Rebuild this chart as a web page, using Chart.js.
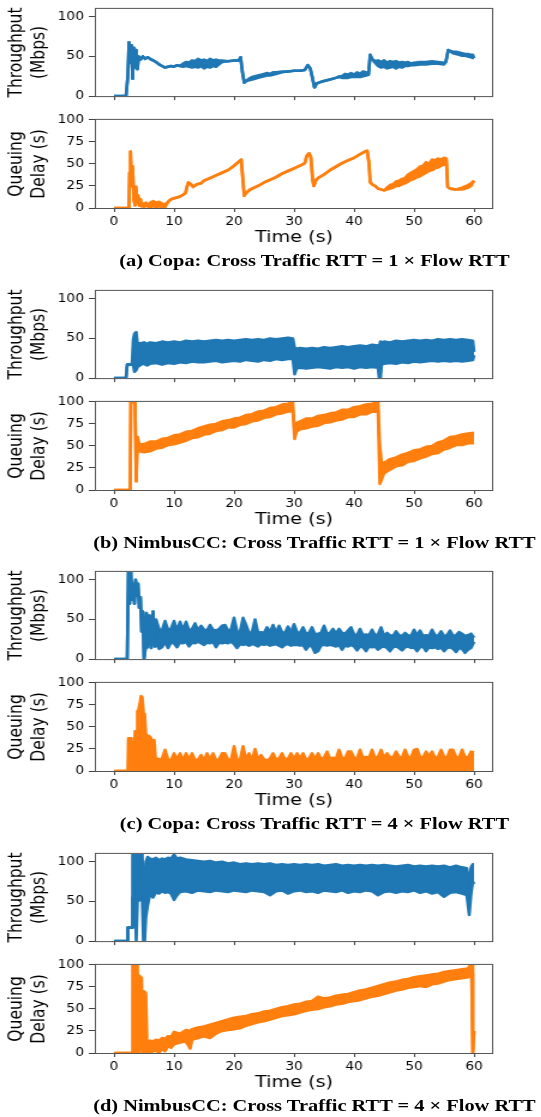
<!DOCTYPE html>
<html lang="en">
<head>
<meta charset="UTF-8">
<title>Copa vs NimbusCC - throughput and queuing delay</title>
<style>
  body { margin: 0; background: #fff; }
  #fig {
    position: relative;
    width: 451px;
    height: 1117px;
    transform: scaleX(1.2);
    transform-origin: 0 0;
  }
  #fig canvas { position: absolute; left: 0; }
  .caption {
    position: absolute;
    left: 0;
    width: 524px;
    text-align: center;
    font: bold 17px "Liberation Serif", "Times New Roman", serif;
    line-height: 20px;
    color: #000;
    white-space: nowrap;
  }
</style>
</head>
<body>
<div id="fig"></div>

<script src="https://cdn.jsdelivr.net/npm/chart.js"></script>
<script>
// rows are [time (s), upper value, lower value]; upper == lower where the trace is a single line
const copa1Tput = [
  [0,0,0],[2.0,0,0],[2.3,25,25],[2.5,68,68],[2.7,42,42],[2.9,64,64],[3.1,22,22],[3.3,61,61],[3.5,36,36],[3.7,58,58],
  [3.9,34,34],[4.1,50,50],[4.4,46,46],[4.8,50,50],[5.2,47,47],[5.6,49,49],[6,47,47],[6.5,45,45],[7,43,43],[7.5,40,40],
  [8,38,38],[8.5,36,36],[9,37,37],[9.5,38,38],[10,37,37],[10.5,39,39],[11,38,38],[11.5,41,37],[12,43,38],[12.5,42,37],
  [13,45,36],[13.5,44,37],[14,47,36],[14.5,45,38],[15,46,35],[15.5,44,37],[16,47,36],[16.5,45,38],[17,46,37],[17.5,45,40],
  [18,45,43],[19,44,44],[20,45,45],[20.8,45,45],[21.1,49,49],[21.4,30,30],[21.7,17,17],[22,19,19],[22.5,22,20],[23,24,21],
  [23.5,25,22],[24,26,23],[24.5,27,24],[25,28,25],[25.5,29,26],[26,28,26],[26.5,30,27],[27,30,28],[28,31,30],[29,31,31],
  [30,32,32],[31,32,32],[31.8,33,33],[32.3,39,39],[32.7,35,35],[33.1,22,22],[33.4,11,11],[33.8,16,16],[34.5,18,18],[35,19,19],
  [36,21,21],[37,23,23],[37.5,25,24],[38,25,23],[38.5,28,23],[39,27,23],[39.5,29,24],[40,27,24],[40.5,30,24],[41,28,24],
  [41.5,31,25],[42,30,26],[42.4,27,27],[42.7,52,52],[43,47,47],[43.5,44,42],[44,45,38],[44.5,43,36],[45,45,37],[45.5,42,35],
  [46,44,36],[46.5,43,37],[47,44,35],[47.5,42,37],[48,43,36],[48.5,42,38],[49,43,38],[49.5,41,39],[50,42,39],[51,43,40],
  [52,43,40],[53,44,41],[54,43,41],[55,42,40],[55.3,43,43],[55.7,58,58],[56,57,57],[56.5,56,54],[57,56,53],[57.5,55,52],
  [58,54,51],[58.5,53,51],[59,53,50],[59.5,52,49],[59.8,52,48],[60,48,48]
];
const copa1Delay = [
  [0,0,0],[2.5,0,0],[2.6,40,40],[2.75,64,64],[2.95,25,25],[3.1,47,47],[3.3,10,10],[3.5,3,3],[3.65,24,24],[3.85,6,6],
  [4.0,14,14],[4.2,3,3],[4.4,10,10],[4.6,2,2],[4.8,5,5],[5.0,1,1],[5.3,6,6],[5.6,2,2],[6,6,1],[6.5,8,2],
  [7,6,1],[7.5,7,2],[8,5,1],[8.5,4,1],[9,7,7],[9.5,10,10],[10,11,11],[10.5,12,12],[11,13,13],[11.5,15,15],
  [11.9,17,17],[12.2,25,25],[12.4,29,29],[12.8,27,27],[13.2,24,24],[13.8,27,27],[14.5,28,28],[15,31,31],[16,34,34],[17,37,37],
  [18,40,40],[19,43,43],[20,48,48],[20.7,52,52],[21.2,55,55],[21.5,30,30],[21.7,14,14],[22,17,17],[22.5,20,20],[23,22,22],
  [24,25,25],[25,29,29],[26,32,32],[27,35,35],[28,39,39],[29,42,42],[30,45,45],[31,48,48],[31.8,51,51],[32.1,59,59],
  [32.5,62,62],[32.8,58,58],[33.1,32,32],[33.3,25,25],[33.6,31,31],[34,34,34],[35,38,38],[36,43,43],[37,47,47],[38,51,51],
  [39,54,54],[40,57,57],[41,61,61],[41.8,64,64],[42.2,65,65],[42.5,50,50],[42.7,29,29],[43,27,27],[43.5,25,25],[44,22,22],
  [45,20,20],[45.5,23,21],[46,26,22],[46.5,27,23],[47,30,25],[47.5,31,25],[48,33,27],[48.5,34,28],[49,38,30],[49.5,40,32],
  [50,42,33],[50.5,44,35],[51,47,36],[51.5,48,38],[52,52,40],[52.5,50,42],[53,55,43],[53.5,54,45],[54,56,46],[54.5,55,48],
  [55,57,49],[55.4,56,52],[55.6,24,24],[56,22,22],[57,21,21],[58,23,21],[59,26,23],[59.5,28,25],[60,31,31]
];
const nimbus1Tput = [
  [0,0,0],[2.0,0,0],[2.2,17,17],[3.0,17,17],[3.2,48,17],[3.4,56,8],[3.7,58,10],[3.9,44,14],[4.5,44,17],[5,45,18],
  [5.5,43,16],[6,45,18],[7,44,19],[8,46,17],[9,45,19],[10,46,18],[11,45,20],[12,47,19],[13,46,21],[14,47,20],
  [15,46,20],[16,47,21],[17,48,22],[18,47,20],[19,48,21],[20,47,22],[21,48,21],[22,49,23],[23,48,22],[24,49,21],
  [25,48,23],[26,50,22],[27,49,24],[28,50,23],[29,51,24],[29.8,50,24],[30.1,38,5],[30.4,37,12],[31,38,13],[32,37,12],
  [33,38,13],[34,37,14],[35,39,13],[36,38,12],[37,39,14],[38,40,13],[39,39,14],[40,40,12],[41,41,14],[42,40,13],
  [43,42,14],[44,41,13],[44.2,40,0],[44.4,46,0],[44.6,45,17],[45,46,18],[46,45,19],[47,47,18],[48,46,20],[49,47,19],
  [50,48,21],[51,47,20],[52,48,21],[53,47,22],[54,49,21],[55,48,22],[56,49,21],[57,48,22],[58,49,21],[59,48,22],
  [59.8,47,23],[60,33,29]
];
const nimbus1Delay = [
  [0,0,0],[2.7,0,0],[2.8,100,100],[3.5,100,100],[3.7,10,10],[3.9,60,60],[4.2,52,44],[5,52,43],[6,55,44],[7,55,47],
  [8,58,48],[9,59,51],[10,62,52],[11,63,54],[12,66,56],[13,67,59],[14,70,60],[15,72,63],[16,74,64],[17,75,67],
  [18,78,68],[19,79,71],[20,81,71],[21,82,74],[22,85,75],[23,86,78],[24,89,79],[25,90,82],[26,93,83],[27,94,86],
  [28,97,87],[29,98,89],[29.8,100,90],[30.1,62,58],[30.4,76,66],[31,78,69],[32,81,70],[33,81,72],[34,84,73],[35,85,76],
  [36,87,77],[37,88,79],[38,91,80],[39,91,83],[40,94,83],[41,95,86],[42,97,86],[43,98,89],[44,100,89],[44.3,50,7],
  [44.6,30,12],[45,31,19],[46,35,23],[47,37,27],[48,40,28],[49,42,32],[50,45,33],[51,46,36],[52,49,38],[53,50,41],
  [54,54,42],[55,56,46],[56,60,48],[57,61,51],[58,63,51],[59,64,53],[60,65,53]
];
const copa4Tput = [
  [0,0,0],[2.2,0,0],[2.4,112,112],[2.6,70,70],[2.8,112,112],[3.0,75,75],[3.2,95,95],[3.4,70,70],[3.6,100,100],[3.8,80,80],
  [4.0,95,95],[4.2,65,65],[4.4,78,78],[4.6,35,35],[4.8,60,60],[5.0,0,0],[5.2,12,12],[5.4,58,58],[5.6,15,15],[5.9,55,55],
  [6.2,14,14],[6.5,60,60],[6.8,16,16],[7,50,20],[7.5,38,13],[8,36,15],[8.5,48,22],[9,37,14],[9.5,38,21],[10,48,20],
  [10.5,36,15],[11,47,21],[11.5,37,20],[12,47,22],[12.5,36,16],[13,38,21],[13.5,45,20],[14,36,22],[14.5,42,20],[15,37,18],
  [15.5,36,21],[16,43,20],[16.5,37,22],[17,36,15],[17.5,38,21],[18,42,20],[18.5,43,21],[19,36,20],[19.5,37,22],[20,52,19],
  [20.5,35,14],[21,34,19],[21.5,52,18],[22,43,19],[22.5,33,17],[23,34,19],[23.5,50,18],[24,33,16],[24.5,34,19],[25,33,18],
  [25.5,40,19],[26,34,17],[26.5,43,18],[27,33,19],[27.5,42,17],[28,34,15],[28.5,33,18],[29,41,19],[29.5,33,17],[30,44,18],
  [30.5,34,18],[31,33,17],[31.5,40,18],[32,32,12],[32.5,33,17],[33,40,16],[33.5,31,8],[34,32,10],[34.5,33,17],[35,42,18],
  [35.5,32,17],[36,33,18],[36.5,38,17],[37,32,16],[37.5,38,18],[38,33,12],[38.5,32,17],[39,36,16],[39.5,40,18],[40,31,16],
  [40.5,30,11],[41,38,16],[41.5,30,15],[42,31,10],[42.5,30,16],[43,37,15],[43.5,30,16],[44,31,12],[44.5,40,15],[45,29,16],
  [45.5,33,14],[46,30,10],[46.5,29,15],[47,35,16],[47.5,30,14],[48,29,11],[48.5,33,15],[49,30,16],[49.5,29,14],[50,37,15],
  [50.5,30,10],[51,36,15],[51.5,29,16],[52,30,10],[52.5,29,15],[53,37,14],[53.5,30,15],[54,29,13],[54.5,35,15],[55,29,10],
  [55.5,30,14],[56,36,15],[56.5,29,13],[57,30,9],[57.5,34,14],[58,32,13],[58.5,29,8],[59,30,12],[59.5,32,14],[60,27,22]
];
const copa4Delay = [
  [0,0,0],[2.3,0,0],[2.4,37,0],[2.8,37,0],[2.9,5,0],[3.3,10,0],[3.5,45,0],[3.8,45,20],[3.9,68,0],[4.1,70,30],
  [4.3,76,0],[4.5,85,40],[4.7,84,0],[4.9,66,20],[5.1,65,0],[5.3,42,0],[5.5,40,10],[5.8,40,0],[6.1,38,0],[6.4,33,0],
  [6.7,35,0],[6.9,15,0],[7.2,14,0],[7.6,13,0],[8,14,0],[8.5,24,0],[9,13,0],[9.5,12,0],[10,20,0],[10.5,13,0],
  [11,20,0],[11.5,12,0],[12,20,0],[12.5,13,0],[13,20,0],[13.5,12,0],[14,13,0],[14.5,18,0],[15,12,0],[15.5,20,0],
  [16,13,0],[16.5,20,0],[17,12,0],[17.5,13,0],[18,20,0],[18.5,20,0],[19,13,0],[19.5,12,0],[20,28,0],[20.5,13,0],
  [21,12,0],[21.5,28,0],[22,13,0],[22.5,20,0],[23,12,0],[23.5,25,0],[24,13,0],[24.5,18,0],[25,13,0],[25.5,12,0],
  [26,14,0],[26.5,20,0],[27,13,0],[27.5,14,0],[28,20,0],[28.5,13,0],[29,14,0],[29.5,20,0],[30,13,0],[30.5,20,0],
  [31,14,0],[31.5,20,0],[32,13,0],[32.5,14,0],[33,20,0],[33.5,13,0],[34,20,0],[34.5,14,0],[35,15,0],[35.5,22,0],
  [36,14,0],[36.5,15,0],[37,14,0],[37.5,24,0],[38,15,0],[38.5,14,0],[39,22,0],[39.5,22,0],[40,15,0],[40.5,14,0],
  [41,24,0],[41.5,15,0],[42,16,0],[42.5,15,0],[43,24,0],[43.5,15,0],[44,16,0],[44.5,24,0],[45,15,0],[45.5,20,0],
  [46,16,0],[46.5,15,0],[47,22,0],[47.5,16,0],[48,15,0],[48.5,24,0],[49,16,0],[49.5,15,0],[50,24,0],[50.5,25,0],
  [51,16,0],[51.5,15,0],[52,22,0],[52.5,16,0],[53,22,0],[53.5,15,0],[54,16,0],[54.5,24,0],[55,16,0],[55.5,15,0],
  [56,24,0],[56.5,24,0],[57,16,0],[57.5,15,0],[58,24,0],[58.5,16,0],[59,15,0],[59.5,22,0],[60,21,0]
];
const nimbus4Tput = [
  [0,0,0],[2.2,0,0],[2.3,17,17],[3.0,17,17],[3.1,112,55],[3.5,112,50],[3.7,60,0],[3.9,112,50],[4.3,112,52],[4.7,110,55],
  [4.9,60,0],[5.1,30,0],[5.3,100,30],[5.6,106,45],[6,104,60],[6.5,103,55],[7,105,62],[7.5,102,60],[8,104,63],[8.5,103,61],
  [9,105,62],[9.5,104,60],[10,109,52],[10.5,104,58],[11,105,62],[12,103,63],[13,102,61],[14,101,64],[15,100,63],[16,101,62],
  [17,99,64],[18,100,63],[19,98,62],[20,99,64],[21,97,63],[22,98,62],[23,97,64],[24,98,63],[25,97,62],[26,98,58],
  [27,96,63],[28,97,64],[29,96,60],[30,97,63],[31,96,64],[32,97,62],[33,96,63],[34,97,61],[35,95,64],[36,96,63],
  [37,97,62],[38,95,64],[39,96,61],[40,95,63],[41,96,62],[42,95,64],[43,96,63],[44,95,58],[45,96,62],[46,95,63],
  [47,94,61],[48,95,63],[49,96,62],[50,94,64],[51,95,61],[52,94,63],[53,95,60],[54,94,62],[55,95,56],[56,93,61],
  [57,95,62],[58,93,60],[58.8,92,58],[59.2,70,33],[59.5,93,60],[59.8,97,75],[60,97,72]
];
const nimbus4Delay = [
  [0,0,0],[3.0,0,0],[3.1,100,0],[3.9,100,0],[4.0,0,0],[4.2,88,0],[4.6,85,30],[4.8,0,0],[5.0,70,0],[5.3,68,20],
  [5.5,10,0],[6,14,0],[6.5,13,2],[7,15,3],[7.5,14,0],[8,17,5],[8.5,16,2],[9,19,8],[9.5,18,6],[10,24,10],
  [11,22,12],[12,26,13],[12.7,25,5],[13,27,15],[14,29,17],[15,30,19],[16,32,17],[17,34,22],[18,36,25],[19,38,26],
  [20,40,27],[21,41,28],[22,42,31],[23,44,33],[24,45,35],[25,47,36],[26,48,38],[27,50,40],[28,52,42],[29,53,43],
  [30,55,44],[31,56,46],[32,58,48],[33,59,49],[34,64,50],[35,62,52],[36,63,53],[37,65,55],[38,66,56],[39,67,58],
  [40,69,59],[41,71,60],[42,72,62],[43,74,64],[44,76,65],[45,78,67],[46,80,69],[47,81,71],[48,83,72],[49,84,74],
  [50,86,75],[51,87,76],[52,88,75],[53,89,78],[54,90,79],[55,92,81],[56,93,83],[57,94,84],[58,95,85],[59,96,86],
  [59.4,100,88],[59.6,100,90],[59.8,0,0],[60,25,25]
];

const xTicks = [0, 10, 20, 30, 40, 50, 60];
const tputTicks = [0, 50, 100];
const delayTicks = [0, 25, 50, 75, 100];
const tputTitle = ['Throughput', '(Mbps)'];
const delayTitle = ['Queuing', 'Delay (s)'];
const captions = [
  '(a) Copa: Cross Traffic RTT = 1 \u00d7 Flow RTT',
  '(b) NimbusCC: Cross Traffic RTT = 1 \u00d7 Flow RTT',
  '(c) Copa: Cross Traffic RTT = 4 \u00d7 Flow RTT',
  '(d) NimbusCC: Cross Traffic RTT = 4 \u00d7 Flow RTT'
];
const groups = [
  [copa1Tput, copa1Delay],
  [nimbus1Tput, nimbus1Delay],
  [copa4Tput, copa4Delay],
  [nimbus4Tput, nimbus4Delay]
];

const BLUE = '#1f77b4';
const ORANGE = '#ff7f0e';
const groupTops = [8, 290, 571, 853];
const fig = document.getElementById('fig');

Chart.defaults.font.family = '"DejaVu Sans", sans-serif';
Chart.defaults.color = '#000';

// box just outside the plot area, like matplotlib spines
const frame = {
  id: 'frame',
  afterDatasetsDraw(chart) {
    const a = chart.chartArea;
    const ctx = chart.ctx;
    ctx.save();
    ctx.strokeStyle = '#555';
    ctx.lineWidth = 1;
    ctx.strokeRect(a.left - 0.5, a.top - 0.5, a.right - a.left + 1, a.bottom - a.top + 1);
    ctx.restore();
  }
};

function bandSets(rows, color) {
  const common = { borderColor: color, borderWidth: 2.6, pointRadius: 0, tension: 0, clip: 0, borderJoinStyle: 'round' };
  return [
    Object.assign({ data: rows.map(r => ({ x: r[0], y: r[1] })), fill: false }, common),
    Object.assign({ data: rows.map(r => ({ x: r[0], y: r[2] })), fill: '-1', backgroundColor: color }, common)
  ];
}

function makePanel(rows, color, yTicks, yMax, yTitle, top, showX) {
  const axisH = showX ? 50 : 10;
  const canvas = document.createElement('canvas');
  canvas.width = 451;
  canvas.height = 10 + 89 + axisH;
  canvas.style.top = (top - 10) + 'px';
  fig.appendChild(canvas);

  new Chart(canvas, {
    type: 'line',
    data: { datasets: bandSets(rows, color) },
    options: {
      responsive: false,
      animation: false,
      layout: { padding: { top: 10, right: 41, left: 0, bottom: 0 } },
      plugins: { legend: { display: false }, tooltip: { enabled: false } },
      scales: {
        x: {
          type: 'linear',
          min: -3,
          max: 63,
          afterBuildTicks: s => { s.ticks = xTicks.map(v => ({ value: v })); },
          afterFit: s => { s.height = axisH; },
          border: { display: false },
          grid: { drawOnChartArea: false, tickLength: 4, color: '#444' },
          ticks: {
            color: showX ? '#000' : 'rgba(0,0,0,0)',
            padding: 3,
            maxRotation: 0,
            font: { size: 11.5 }
          },
          title: {
            display: showX,
            text: 'Time (s)',
            font: { size: 16 },
            padding: { top: 0, bottom: 11 }
          }
        },
        y: {
          min: 0,
          max: yMax,
          afterBuildTicks: s => { s.ticks = yTicks.map(v => ({ value: v })); },
          afterFit: s => { s.width = 80; },
          border: { display: false },
          grid: { drawOnChartArea: false, tickLength: 6, color: '#444' },
          ticks: { padding: 4, font: { size: 11.5 } },
          title: {
            display: true,
            text: yTitle,
            font: { size: 15.5 },
            padding: { top: 5, bottom: 0 }
          }
        }
      }
    },
    plugins: [frame]
  });
}

groups.forEach((g, i) => {
  const top = groupTops[i];
  makePanel(g[0], BLUE, tputTicks, 110, tputTitle, top, false);
  makePanel(g[1], ORANGE, delayTicks, 100, delayTitle, top + 111, true);

  const cap = document.createElement('div');
  cap.className = 'caption';
  cap.style.top = (top + 253 - 10) + 'px';
  cap.textContent = captions[i];
  fig.appendChild(cap);
});
</script>
</body>
</html>
